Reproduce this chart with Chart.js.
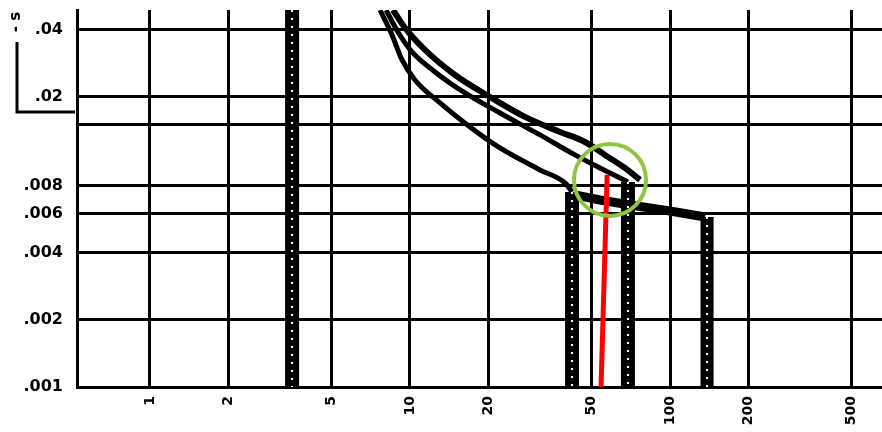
<!DOCTYPE html>
<html>
  <head>
    <meta charset="UTF-8" />
    <title>Time-current curve</title>
    <script src="https://cdn.jsdelivr.net/npm/chart.js"></script>
    <style>
      body { margin: 0; background: #fff; }
      .wrap { width: 882px; height: 432px; position: relative; }
    </style>
  </head>
  <body>
    <div class="wrap"><canvas id="curveChart"></canvas></div>

    <script>
      // axis ticks (current multiple / time in s)
      const xTicks = [1, 2, 5, 10, 20, 50, 100, 200, 500];
      const yTicks = [0.001, 0.002, 0.004, 0.006, 0.008, 0.015, 0.02, 0.04];
      const yTickLabels = ['.001', '.002', '.004', '.006', '.008', '', '.02', '.04'];

      // left vertical band
      const bandLeftX = [3.52, 3.52];
      const bandLeftY = [0.0491, 0.001];

      // lower curve
      const lowerX = [7.67, 8.53, 9.32, 10.45, 13.04, 17.01, 22.19, 31.62, 39.47, 42.0];
      const lowerY = [0.0491, 0.03795, 0.02931, 0.02384, 0.0188, 0.01467, 0.01181, 0.00941, 0.00823, 0.0075];
      const bandLowerX = [42.0, 42.0];
      const bandLowerY = [0.0075, 0.001];

      // middle curve
      const middleX = [8.09, 8.99, 10.18, 12.48, 16.28, 22.19, 31.62, 43.12, 53.8, 68.9];
      const middleY = [0.0491, 0.03914, 0.03184, 0.0259, 0.02084, 0.01695, 0.01351, 0.01099, 0.0096, 0.00832];
      const bandMiddleX = [68.9, 68.9];
      const bandMiddleY = [0.0083, 0.001];

      // upper curve
      const upperX = [8.6, 9.57, 11.42, 14.9, 20.31, 27.69, 37.76, 47.11, 56.23, 67.13, 76.7];
      const upperY = [0.0491, 0.04079, 0.0325, 0.0251, 0.02, 0.01627, 0.01393, 0.01256, 0.01099, 0.0096, 0.00849];

      // right arm + right band
      const armX = [43.1, 53.8, 70.2, 100, 136.4];
      const armY = [0.00727, 0.0069, 0.00655, 0.00616, 0.00579];
      const bandRightX = [138.8, 138.8];
      const bandRightY = [0.00579, 0.001];

      // red marker + green ring
      const redX = [57.3, 54.3];
      const redY = [0.00894, 0.001];
      const ringX = [58.8];
      const ringY = [0.00849];

      const pts = (xs, ys) => xs.map((x, i) => ({ x: x, y: ys[i] }));

      const line = (xs, ys, width, smooth) => ({
        data: pts(xs, ys),
        showLine: true,
        borderColor: '#000',
        borderWidth: width,
        pointRadius: 0,
        cubicInterpolationMode: smooth ? 'monotone' : 'default',
        order: 3
      });

      const dashes = (xs, ys) => ({
        data: pts(xs, ys),
        showLine: true,
        borderColor: '#fff',
        borderWidth: 2,
        borderDash: [2, 6],
        pointRadius: 0,
        order: 2
      });

      const bracket = {
        id: 'bracket',
        afterDraw(chart) {
          const c = chart.ctx;
          c.save();
          c.strokeStyle = '#000';
          c.lineWidth = 3;
          c.beginPath();
          c.moveTo(17, 42);
          c.lineTo(17, 112);
          c.lineTo(75, 112);
          c.stroke();
          c.translate(16, 22);
          c.rotate(-Math.PI / 2);
          c.fillStyle = '#000';
          c.font = 'bold 15px "DejaVu Sans"';
          c.textAlign = 'center';
          c.textBaseline = 'middle';
          c.fillText('- s', 0, 0);
          c.restore();
        }
      };

      const ctx = document.getElementById('curveChart').getContext('2d');
      const curveChart = new Chart(ctx, {
        type: 'scatter',
        data: {
          datasets: [
            {
              data: pts(ringX, ringY),
              pointRadius: 36,
              pointBorderWidth: 4,
              pointBorderColor: '#8dc641',
              pointBackgroundColor: 'rgba(0,0,0,0)',
              order: 0
            },
            {
              data: pts(redX, redY),
              showLine: true,
              borderColor: '#ff0000',
              borderWidth: 5,
              pointRadius: 0,
              order: 1
            },
            dashes(bandLeftX, bandLeftY),
            dashes(bandLowerX, bandLowerY),
            dashes(bandMiddleX, bandMiddleY),
            dashes(bandRightX, bandRightY),
            line(bandLeftX, bandLeftY, 14),
            line(bandLowerX, bandLowerY, 14),
            line(bandMiddleX, bandMiddleY, 14),
            line(bandRightX, bandRightY, 13),
            line(lowerX, lowerY, 5, true),
            line(middleX, middleY, 5, true),
            line(upperX, upperY, 6, true),
            line(armX, armY, 9)
          ]
        },
        options: {
          responsive: true,
          maintainAspectRatio: false,
          animation: false,
          layout: { autoPadding: false, padding: { top: 10, right: 0, left: 0, bottom: 0 } },
          plugins: {
            legend: { display: false },
            tooltip: { enabled: false }
          },
          scales: {
            x: {
              type: 'logarithmic',
              min: 0.524,
              max: 653.6,
              afterBuildTicks: s => { s.ticks = xTicks.map(v => ({ value: v })); },
              afterFit: s => { s.height = 45; s.paddingLeft = 0; s.paddingRight = 0; },
              ticks: {
                autoSkip: false,
                minRotation: 90,
                maxRotation: 90,
                padding: 9,
                color: '#000',
                font: { family: 'DejaVu Sans', size: 14, weight: 'bold' },
                callback: v => String(v)
              },
              grid: { color: '#000', lineWidth: 3, drawTicks: false },
              border: { color: '#000', width: 3 }
            },
            y: {
              type: 'logarithmic',
              min: 0.001,
              max: 0.0491,
              afterBuildTicks: s => { s.ticks = yTicks.map(v => ({ value: v })); },
              afterFit: s => { s.width = 77; s.paddingTop = 0; s.paddingBottom = 0; },
              ticks: {
                padding: 14,
                color: '#000',
                font: { family: 'DejaVu Sans', size: 16, weight: 'bold' },
                callback: v => yTickLabels[yTicks.indexOf(v)]
              },
              grid: { color: '#000', lineWidth: 3, drawTicks: false },
              border: { color: '#000', width: 3 }
            }
          }
        },
        plugins: [bracket]
      });
    </script>
  </body>
</html>
